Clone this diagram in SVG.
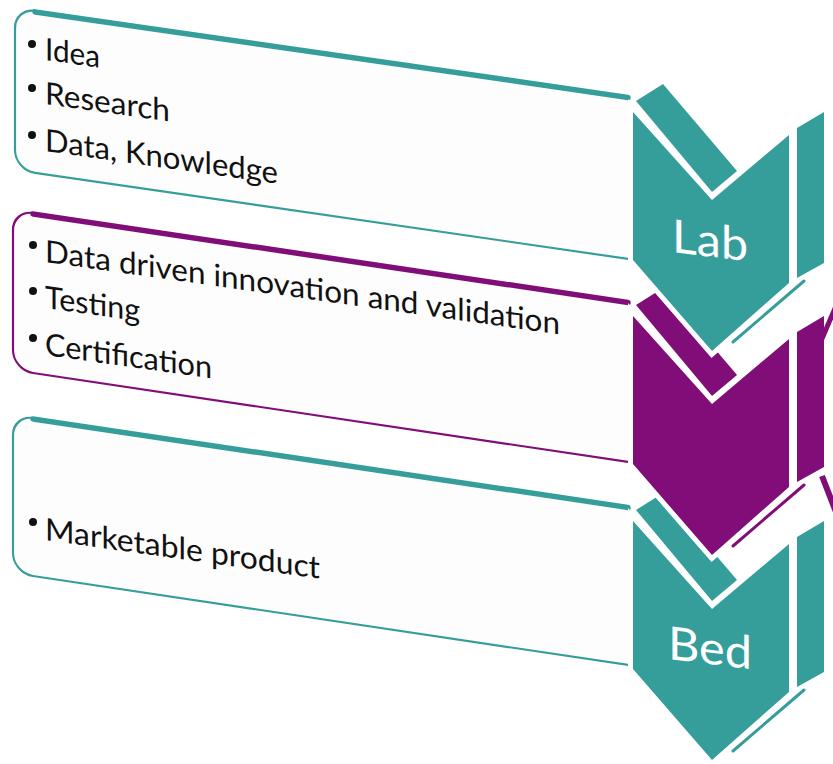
<svg xmlns="http://www.w3.org/2000/svg" width="833" height="764" viewBox="0 0 833 764">
<style>
.bg{fill:#ffffff}
.boxfill{fill:#fdfdfd;stroke:none}
.tealline{fill:none;stroke:#369e9a;stroke-width:2.2}
.purpline{fill:none;stroke:#800d78;stroke-width:2.2}
.tealtop{fill:none;stroke:#369e9a;stroke-width:5.5;stroke-linecap:round}
.purptop{fill:none;stroke:#800d78;stroke-width:5.5;stroke-linecap:round}
.txt{font-family:Lato,"Open Sans","Liberation Sans",sans-serif;font-size:31px;fill:#111111}
.bul{fill:#111111}
.teal{fill:#369e9a}
.purple{fill:#800d78}
.face{stroke:#ffffff;stroke-width:10;stroke-linejoin:miter;paint-order:stroke}
.thin{fill:none;stroke-width:3;stroke-linecap:round}
.lbl{font-family:Lato,"Open Sans","Liberation Sans",sans-serif;font-size:46px;fill:#ffffff}
</style>
<rect class="bg" x="0" y="0" width="833" height="764"/>

<g id="box-lab">
  <g transform="translate(15,8) skewY(8.25)">
    <path class="boxfill" d="M613,0 L20,0 Q0,0 0,20 L0,142 Q0,162 20,162 L613,162 Z"/>
    <path class="tealline" d="M613,0 L20,0 A20,20 0 0 0 0,20 L0,142 A20,20 0 0 0 20,162 L613,162"/>
    <path class="tealtop" d="M20,1 L613,0.5"/>
  </g>
  <circle class="bul" cx="32" cy="44" r="4"/>
  <circle class="bul" cx="32" cy="88" r="4"/>
  <circle class="bul" cx="32" cy="135" r="4"/>
  <text class="txt" transform="translate(45,60) skewY(8)" textLength="55" lengthAdjust="spacingAndGlyphs">Idea</text>
  <text class="txt" transform="translate(45,104) skewY(8)" textLength="125" lengthAdjust="spacingAndGlyphs">Research</text>
  <text class="txt" transform="translate(45,151) skewY(8)" textLength="233" lengthAdjust="spacingAndGlyphs">Data, Knowledge</text>
</g>

<g id="box-mid">
  <g transform="translate(13,210) skewY(8.5)">
    <path class="boxfill" d="M615,0 L20,0 Q0,0 0,20 L0,140 Q0,160 20,160 L615,160 Z"/>
    <path class="purpline" d="M615,0 L20,0 A20,20 0 0 0 0,20 L0,140 A20,20 0 0 0 20,160 L615,160"/>
    <path class="purptop" d="M20,1 L615,0.5"/>
  </g>
  <circle class="bul" cx="33" cy="245" r="4"/>
  <circle class="bul" cx="33" cy="291" r="4"/>
  <circle class="bul" cx="33" cy="338" r="4"/>
  <text class="txt" transform="translate(45,262) skewY(8)" textLength="515" lengthAdjust="spacingAndGlyphs">Data driven innovation and validation</text>
  <text class="txt" transform="translate(45,308) skewY(8)" textLength="95" lengthAdjust="spacingAndGlyphs">Testing</text>
  <text class="txt" transform="translate(45,355) skewY(8)" textLength="167" lengthAdjust="spacingAndGlyphs">Certification</text>
</g>

<g id="box-bed">
  <g transform="translate(13,415) skewY(8.5)">
    <path class="boxfill" d="M615,0 L20,0 Q0,0 0,20 L0,138 Q0,158 20,158 L615,158 Z"/>
    <path class="tealline" d="M615,0 L20,0 A20,20 0 0 0 0,20 L0,138 A20,20 0 0 0 20,158 L615,158"/>
    <path class="tealtop" d="M20,1 L615,0.5"/>
  </g>
  <circle class="bul" cx="33" cy="522" r="4"/>
  <text class="txt" transform="translate(45,540) skewY(8)" textLength="275" lengthAdjust="spacingAndGlyphs">Marketable product</text>
</g>

<g id="chevron-bed" transform="translate(0,409)">
  <path class="teal" d="M636,101 L663,84 L737,171 L712,192 Z"/>
  <path class="teal face" d="M633,112 L712,200 L789,135 L789,283 L712,351 L633,260 Z"/>
  <path class="teal" d="M797,128 L824,112 L824,263 L797,278 Z"/>
  <path class="thin" stroke="#369e9a" d="M733,342 L804,281"/>
  <text class="lbl" transform="translate(668,250) skewY(7)" textLength="84" lengthAdjust="spacingAndGlyphs">Bed</text>
</g>

<g id="chevron-mid" transform="translate(0,204)">
  <path class="purple" d="M636,101 L663,84 L737,171 L712,192 Z"/>
  <path class="purple face" d="M633,112 L712,200 L789,135 L789,283 L712,351 L633,260 Z"/>
  <path class="purple" d="M797,128 L824,112 L824,263 L797,278 Z"/>
  <path class="thin" stroke="#800d78" d="M733,342 L804,281"/>
</g>

<g id="chevron-lab">
  <path class="teal" d="M636,101 L663,84 L737,171 L712,192 Z"/>
  <path class="teal face" d="M633,112 L712,200 L789,135 L789,283 L712,351 L633,260 Z"/>
  <path class="teal" d="M797,128 L824,112 L824,263 L797,278 Z"/>
  <path class="thin" stroke="#369e9a" d="M733,342 L804,281"/>
  <text class="lbl" transform="translate(672,252) skewY(7)" textLength="76" lengthAdjust="spacingAndGlyphs">Lab</text>
</g>

<g id="edge-right">
  <path d="M821,341 L836,306" fill="none" stroke="#800d78" stroke-width="5"/>
  <path d="M822,476 L836,512" fill="none" stroke="#800d78" stroke-width="6"/>
</g>

<g id="connectors"/>
</svg>
